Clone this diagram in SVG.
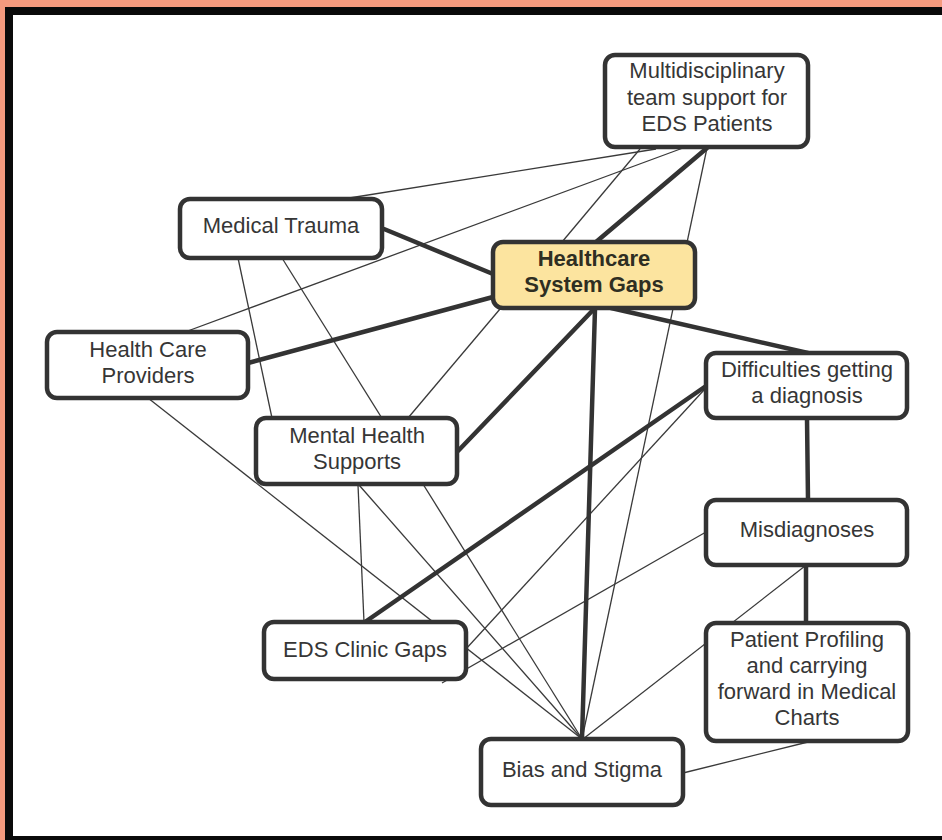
<svg xmlns="http://www.w3.org/2000/svg" width="942" height="840" viewBox="0 0 942 840">
  <style>
    .box { fill: #ffffff; stroke: #333333; stroke-width: 4.5; }
    .core { fill: #fce49f; stroke: #333333; stroke-width: 4.5; }
    .lbl { font-family: "Liberation Sans", Arial, sans-serif; font-size: 22px; fill: #363636; text-anchor: middle; }
    .bold { font-weight: bold; fill: #2e2e22; }
    .thin { stroke: #3a3a3a; stroke-width: 1.3; fill: none; }
    .thick { stroke: #333333; stroke-width: 4.5; fill: none; stroke-linecap: round; }
  </style>

  <!-- page frame -->
  <rect x="0" y="0" width="942" height="840" fill="#ffffff"/>
  <rect x="0" y="0" width="942" height="7" fill="#f59a7e"/>
  <rect x="0" y="0" width="5" height="840" fill="#f59a7e"/>
  <rect x="5" y="7" width="937" height="8" fill="#0a0a0a"/>
  <rect x="5" y="7" width="8" height="833" fill="#0a0a0a"/>
  <rect x="5" y="836" width="937" height="4" fill="#0a0a0a"/>

  <!-- connectors (drawn beneath the boxes) -->
  <g id="connectors">
    <!-- weak links -->
    <line class="thin" x1="656" y1="149" x2="343" y2="199"/>
    <line class="thin" x1="683" y1="148" x2="185" y2="332"/>
    <line class="thin" x1="640" y1="149" x2="562" y2="242"/>
    <line class="thin" x1="707" y1="148" x2="582" y2="739"/>
    <line class="thin" x1="238" y1="258" x2="272" y2="418"/>
    <line class="thin" x1="282" y1="258" x2="582" y2="739"/>
    <line class="thin" x1="500" y1="309" x2="408" y2="418"/>
    <line class="thin" x1="148" y1="398" x2="582" y2="739"/>
    <line class="thin" x1="358" y1="485" x2="364" y2="622"/>
    <line class="thin" x1="359" y1="485" x2="582" y2="739"/>
    <line class="thin" x1="704" y1="390" x2="465" y2="650"/>
    <line class="thin" x1="706" y1="532" x2="442" y2="683"/>
    <line class="thin" x1="805" y1="566" x2="583" y2="739"/>
    <line class="thin" x1="808" y1="742" x2="683" y2="773"/>
    <!-- strong links -->
    <line class="thick" x1="384" y1="229" x2="493" y2="274"/>
    <line class="thick" x1="248" y1="363" x2="493" y2="297"/>
    <line class="thick" x1="596" y1="242" x2="707" y2="148"/>
    <line class="thick" x1="594" y1="309" x2="458" y2="451"/>
    <line class="thick" x1="595" y1="309" x2="582" y2="739"/>
    <line class="thick" x1="611" y1="308" x2="808" y2="353"/>
    <line class="thick" x1="706" y1="386" x2="365" y2="622"/>
    <line class="thick" x1="807" y1="418" x2="808" y2="500"/>
    <line class="thick" x1="806" y1="565" x2="806" y2="623"/>
  </g>

  <!-- nodes -->
  <g id="multidisciplinary-team">
    <rect class="box" x="605" y="55" width="203" height="92" rx="10"/>
    <text class="lbl" x="707" y="78">Multidisciplinary</text>
    <text class="lbl" x="707" y="104.5">team support for</text>
    <text class="lbl" x="707" y="131">EDS Patients</text>
  </g>

  <g id="medical-trauma">
    <rect class="box" x="180" y="199" width="202" height="59" rx="10"/>
    <text class="lbl" x="281" y="233">Medical Trauma</text>
  </g>

  <g id="healthcare-system-gaps">
    <rect class="core" x="493" y="242" width="202" height="66" rx="10"/>
    <text class="lbl bold" x="594" y="266">Healthcare</text>
    <text class="lbl bold" x="594" y="292">System Gaps</text>
  </g>

  <g id="health-care-providers">
    <rect class="box" x="47" y="332" width="201" height="66" rx="10"/>
    <text class="lbl" x="148" y="357">Health Care</text>
    <text class="lbl" x="148" y="383">Providers</text>
  </g>

  <g id="mental-health-supports">
    <rect class="box" x="256" y="418" width="201" height="66" rx="10"/>
    <text class="lbl" x="357" y="443">Mental Health</text>
    <text class="lbl" x="357" y="469">Supports</text>
  </g>

  <g id="difficulties-diagnosis">
    <rect class="box" x="706" y="353" width="201" height="65" rx="10"/>
    <text class="lbl" x="807" y="377">Difficulties getting</text>
    <text class="lbl" x="807" y="403">a diagnosis</text>
  </g>

  <g id="misdiagnoses">
    <rect class="box" x="706" y="500" width="201" height="65" rx="10"/>
    <text class="lbl" x="807" y="537">Misdiagnoses</text>
  </g>

  <g id="patient-profiling">
    <rect class="box" x="706" y="623" width="202" height="118" rx="10"/>
    <text class="lbl" x="807" y="647">Patient Profiling</text>
    <text class="lbl" x="807" y="673">and carrying</text>
    <text class="lbl" x="807" y="699">forward in Medical</text>
    <text class="lbl" x="807" y="725">Charts</text>
  </g>

  <g id="eds-clinic-gaps">
    <rect class="box" x="264" y="622" width="202" height="57" rx="10"/>
    <text class="lbl" x="365" y="657">EDS Clinic Gaps</text>
  </g>

  <g id="bias-stigma">
    <rect class="box" x="481" y="739" width="202" height="66" rx="10"/>
    <text class="lbl" x="582" y="777">Bias and Stigma</text>
  </g>
</svg>
